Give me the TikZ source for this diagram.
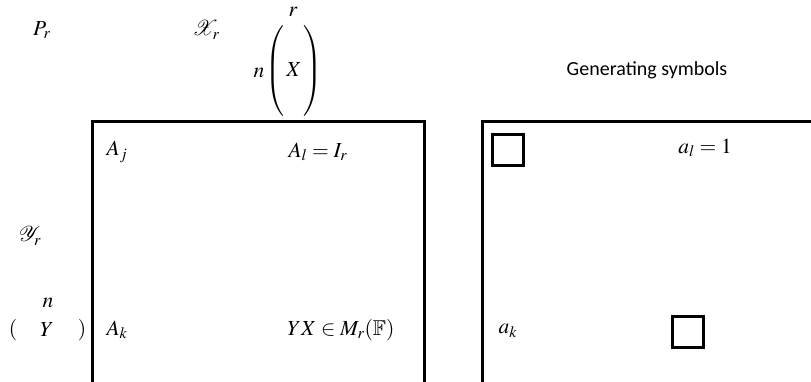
\documentclass[tikz,border=0pt]{standalone}
\usepackage{amssymb}
\usepackage{mathptmx}
\usepackage{fontspec}
\newfontfamily\carlito{Carlito}
\begin{document}
\begin{tikzpicture}[x=1pt,y=-1pt,
  m/.style={font=\fontsize{21.5}{25}\selectfont, inner sep=0pt},
  frame/.style={line width=3pt},
  sq/.style={draw, line width=3pt, minimum width=31pt, minimum height=31pt, inner sep=0pt}]
\useasboundingbox (0,0) rectangle (811,381);
\clip (0,0) rectangle (811,381);
\node[m] (pr) at (42,30) {$P_r$};
\node[m] (xr) at (206,30) {$\mathcal{X}_r$};
\node[m] (rr) at (293,12) {$r$};
\node[m] (nx) at (259,73) {$n$};
\node[m] (xm) at (294,71) {$\left(\vphantom{\rule[-36pt]{0pt}{80pt}}\,X\,\right)$};
\node[m] (yr) at (30,236) {$\mathcal{Y}_r$};
\node[m] (ny) at (48,303) {$n$};
\node[m] (lp) at (13,330) {$($};
\node[m] (ym) at (47,330) {$Y$};
\node[m] (rp) at (82,330) {$)$};
\node[m] (aj) at (117,152) {$A_j$};
\node[m] (al) at (318,152) {$A_l = I_r$};
\node[m] (ak) at (117,330) {$A_k$};
\node[m] (yx) at (341,330) {$YX \in M_r(\mathbb{F})$};
\node[font=\carlito\fontsize{20}{24}\selectfont, inner sep=0pt] (gen) at (647,70) {Generating symbols};
\draw[frame] (92,400) -- (92,121) -- (424,121) -- (424,400);
\draw[frame] (482,400) -- (482,121) -- (830,121);
\node[sq] (s1) at (508,150) {};
\node[sq] (s2) at (688,332) {};
\node[m] (alr) at (705,148) {$a_l = 1$};
\node[m] (akr) at (508,331) {$a_k$};
\end{tikzpicture}
\end{document}
